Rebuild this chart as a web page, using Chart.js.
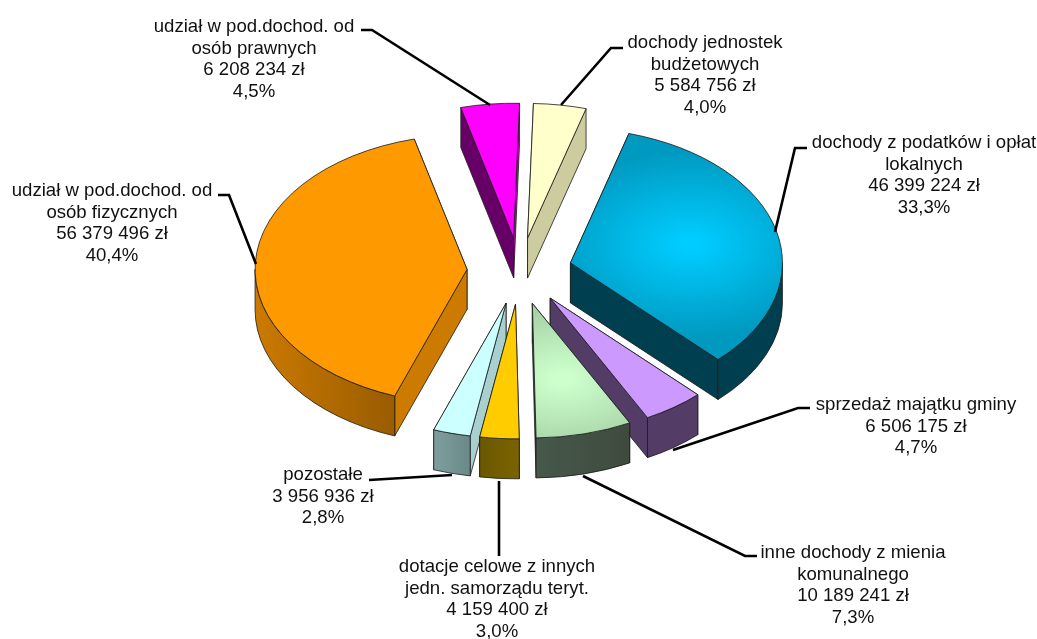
<!DOCTYPE html>
<html lang="pl">
<head>
<meta charset="utf-8">
<title>Struktura dochodów</title>
<script src="https://cdn.jsdelivr.net/npm/chart.js@4"></script>
<style>
    body { margin: 0; background: #fff; }
    canvas { display: block; }
</style>
</head>
<body>
<canvas id="chart" width="1037" height="639"></canvas>
<script>
// data, clockwise from the top
const categories = [
    ["dochody jednostek", "budżetowych"],
    ["dochody z podatków i opłat", "lokalnych"],
    ["sprzedaż majątku gminy"],
    ["inne dochody z mienia", "komunalnego"],
    ["dotacje celowe z innych", "jedn. samorządu teryt."],
    ["pozostałe"],
    ["udział w pod.dochod. od", "osób fizycznych"],
    ["udział w pod.dochod. od", "osób prawnych"],
];
const amounts = [5584756, 46399224, 6506175, 10189241, 4159400, 3956936, 56379496, 6208234];
const percents = ["4,0%", "33,3%", "4,7%", "7,3%", "3,0%", "2,8%", "40,4%", "4,5%"];

// colours of the top, of the two cut faces and of the outer wall
const topColors = ["#FFFFCC", "#00CCFF", "#CC99FF", "#CCFFCC", "#FFCC00", "#CCFFFF", "#FF9900", "#FF00FF"];
const topEdgeColors = [null, "#0099BF", null, "#99C299", null, null, null, null];
const faceColors = [
    ["#CCCC9F", "#CCCC9F"], ["#003F50", "#003F50"], ["#533C66", "#533C66"], ["#3F4F3F", "#3F4F3F"],
    ["#665200", "#665200"], ["#A8D0D0", "#7F9F9F"], ["#CC7A00", "#CC7A00"], ["#660066", "#CC00CC"],
];
const wallColors = [
    ["#CCCC9F", "#CCCC9F"], ["#003F50", "#003F50"], ["#533C66", "#533C66"], ["#46594A", "#3F4A3F"],
    ["#6B5800", "#7A6300"], ["#7F9F9F", "#6A8888"], ["#CC7A00", "#995C00"], ["#660066", "#660066"],
];

// label layout: centre x, y of the first line, leader polyline
const labelX = [705, 924, 916, 853, 497, 323, 112, 254];
const labelY = [43, 143, 405, 553, 567, 475, 191, 27];
const leaders = [
    [[561, 105], [611, 48], [623, 48]],
    [[775, 232], [795, 148], [807, 148]],
    [[673, 450], [798, 408], [810, 408]],
    [[583, 476], [745, 556], [757, 556]],
    [[499, 481], [499, 556]],
    [[369, 480], [452, 475]],
    [[256, 264], [229, 195], [218, 195]],
    [[490, 105], [372, 30], [361, 30]],
];

const tilt = 0.635;
const depth = 40;
const explode = 52.5;
const edgeColor = "#1c1c1c";

function formatAmount(value) {
    return String(value).replace(/\B(?=(\d{3})+$)/g, " ") + " zł";
}

function rimPoint(x, y, r, angle) {
    return [x + Math.cos(angle) * r, y + Math.sin(angle) * r * tilt];
}

function drawFace(ctx, x, y, rim, color) {
    ctx.beginPath();
    ctx.moveTo(x, y);
    ctx.lineTo(rim[0], rim[1]);
    ctx.lineTo(rim[0], rim[1] + depth);
    ctx.lineTo(x, y + depth);
    ctx.closePath();
    ctx.fillStyle = color;
    ctx.fill();
    ctx.stroke();
}

function drawWall(ctx, x, y, r, from, to, colors) {
    const a = Math.max(from, 0);
    const b = Math.min(to, Math.PI);
    if (b <= a) return;

    const left = rimPoint(x, y, r, b)[0];
    const right = rimPoint(x, y, r, a)[0];
    const gradient = ctx.createLinearGradient(left, 0, right, 0);
    gradient.addColorStop(0, colors[0]);
    gradient.addColorStop(1, colors[1]);

    ctx.beginPath();
    ctx.ellipse(x, y, r, r * tilt, 0, a, b);
    ctx.ellipse(x, y + depth, r, r * tilt, 0, b, a, true);
    ctx.closePath();
    ctx.fillStyle = gradient;
    ctx.fill();
    ctx.stroke();
}

// the pie is drawn by hand from the arc elements: squashed, exploded, with a side
const pie3d = {
    id: "pie3d",
    beforeDatasetDraw(chart, args) {
        const ctx = chart.ctx;
        const order = args.meta.data
            .map((arc, i) => ({ arc, i }))
            .sort((p, q) =>
                Math.sin((p.arc.startAngle + p.arc.endAngle) / 2) -
                Math.sin((q.arc.startAngle + q.arc.endAngle) / 2));

        order.forEach(({ arc, i }) => {
            const mid = (arc.startAngle + arc.endAngle) / 2;
            const dx = Math.cos(mid) * explode;
            const dy = Math.sin(mid) * explode;
            const x = arc.x + dx;
            const y = arc.y + dy * tilt;
            const r = arc.outerRadius;

            ctx.save();
            ctx.lineWidth = 0.8;
            ctx.strokeStyle = edgeColor;
            ctx.lineJoin = "round";

            // cut faces, the nearer one last
            const faces = [
                { rim: rimPoint(x, y, r, arc.startAngle), color: faceColors[i][0] },
                { rim: rimPoint(x, y, r, arc.endAngle), color: faceColors[i][1] },
            ].sort((p, q) => p.rim[1] - q.rim[1]);
            faces.forEach((face) => drawFace(ctx, x, y, face.rim, face.color));
            drawWall(ctx, x, y, r, arc.startAngle, arc.endAngle, wallColors[i]);

            // top, through the library's own arc
            ctx.translate(arc.x, arc.y);
            ctx.scale(1, tilt);
            ctx.translate(-arc.x + dx, -arc.y + dy);
            const top = Object.create(arc);
            top.options = Object.assign({}, arc.options);
            if (topEdgeColors[i]) {
                const gx = arc.x + Math.cos(mid) * r * 0.58;
                const gy = arc.y + Math.sin(mid) * r * 0.58;
                const shade = ctx.createRadialGradient(gx, gy, 10, gx, gy, r * 0.7);
                shade.addColorStop(0, topColors[i]);
                shade.addColorStop(1, topEdgeColors[i]);
                top.options.backgroundColor = shade;
            }
            top.draw(ctx);
            ctx.restore();
        });
        return false;
    },
    afterDraw(chart) {
        const ctx = chart.ctx;
        ctx.save();
        ctx.strokeStyle = "#000";
        ctx.lineWidth = 2.6;
        leaders.forEach((points) => {
            ctx.beginPath();
            points.forEach((p, i) => (i ? ctx.lineTo(p[0], p[1]) : ctx.moveTo(p[0], p[1])));
            ctx.stroke();
        });

        ctx.fillStyle = "#111";
        ctx.font = "18.6px 'Liberation Sans'";
        ctx.textAlign = "center";
        ctx.textBaseline = "middle";
        categories.forEach((lines, i) => {
            lines.concat(formatAmount(amounts[i]), percents[i]).forEach((line, n) => {
                ctx.fillText(line, labelX[i], labelY[i] + n * 21.6);
            });
        });
        ctx.restore();
    },
};

new Chart(document.getElementById("chart"), {
    type: "pie",
    plugins: [pie3d],
    data: {
        labels: categories.map((lines) => lines.join(" ")),
        datasets: [{
            data: amounts,
            backgroundColor: topColors,
            borderColor: edgeColor,
            borderWidth: 1,
        }],
    },
    options: {
        responsive: false,
        animation: false,
        events: [],
        rotation: 1.6,
        radius: 212,
        layout: { padding: { left: 2, bottom: 97 } },
        plugins: {
            legend: { display: false },
            tooltip: { enabled: false },
        },
    },
});
</script>
</body>
</html>
